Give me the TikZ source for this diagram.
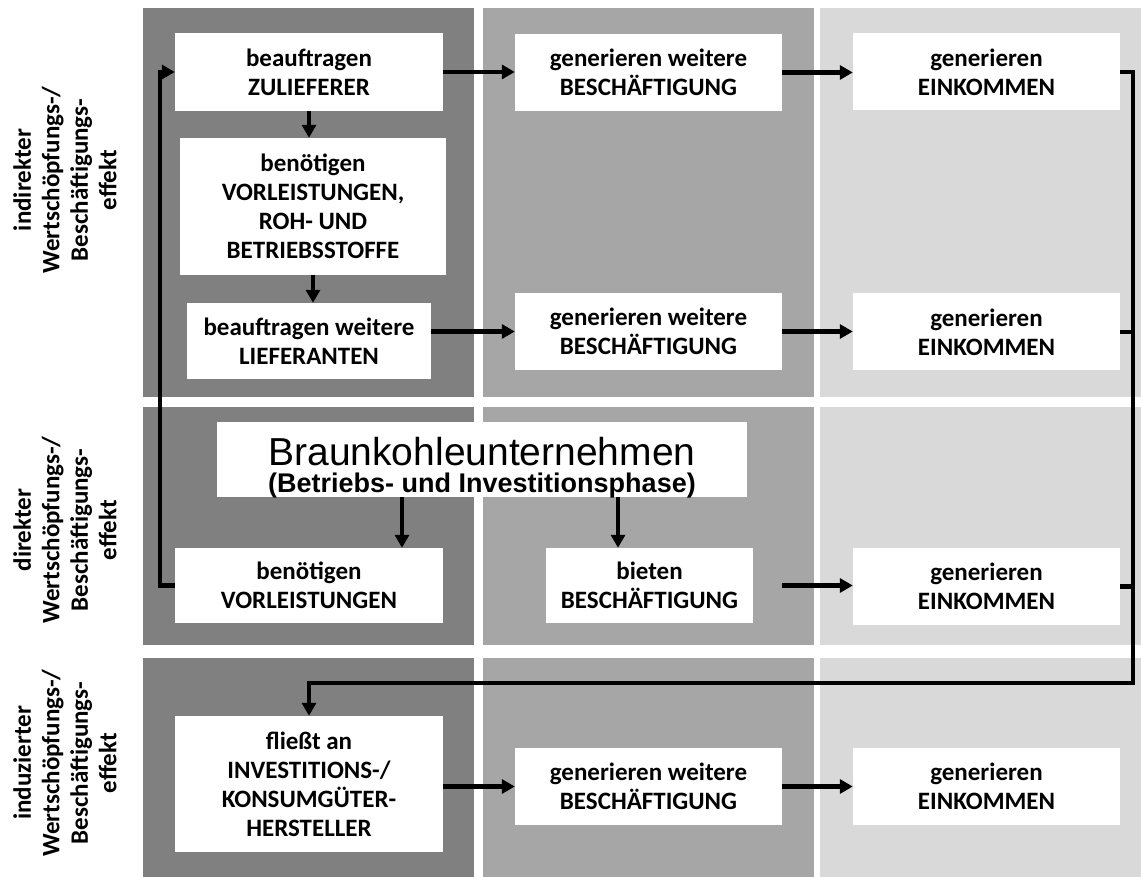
\documentclass[tikz,border=0pt]{standalone}
\usepackage{fontspec}
\setmainfont{Carlito}
\newfontfamily\arialfont{Liberation Sans}
\usepackage{tikz}
\usetikzlibrary{arrows.meta}

\definecolor{colA}{HTML}{808080}
\definecolor{colB}{HTML}{A6A6A6}
\definecolor{colC}{HTML}{D9D9D9}

\tikzset{
  box/.style={fill=white, inner sep=0pt, align=center, minimum width=267pt, minimum height=77pt,
    font=\fontsize{25}{29}\selectfont\bfseries},
  sidelabel/.style={rotate=90, align=center, font=\fontsize{25}{28.5}\selectfont\bfseries},
  arr/.style={line width=4.5pt, -{Triangle[length=13pt,width=14pt]}},
  conn/.style={line width=4.5pt}
}

\begin{document}
\begin{tikzpicture}[x=1pt,y=-1pt]
	  \useasboundingbox[fill=white] (0,0) rectangle (1141,877);
	  % Draw the grey columns of each row
	  \foreach \ya/\yb in {8/397,407/645,658/877} {
	    \fill[colA] (143,\ya) rectangle (474,\yb);
	    \fill[colB] (483,\ya) rectangle (814,\yb);
	    \fill[colC] (820,\ya) rectangle (1141,\yb);
	  }
	  % Row labels
	  \node[sidelabel] (lblind) at (65,180) {indirekter\\Wertschöpfungs-/\\Beschäftigungs-\\effekt};
	  \node[sidelabel] (lbldir) at (65,530) {direkter\\Wertschöpfungs-/\\Beschäftigungs-\\effekt};
	  \node[sidelabel] (lblinduz) at (65,763) {induzierter\\Wertschöpfungs-/\\Beschäftigungs-\\effekt};
	  % indirect row
	  \node[box, minimum width=268pt, minimum height=78pt] (zul) at (309,72) {beauftragen\\ZULIEFERER};
	  \node[box, minimum width=266pt, minimum height=137pt] (vorl) at (313,206.5) {benötigen\\VORLEISTUNGEN,\\ROH- UND\\BETRIEBSSTOFFE};
	  \node[box, minimum width=244pt, minimum height=76pt] (lief) at (309,341) {beauftragen weitere\\LIEFERANTEN};
	  \node[box] (beschA) at (648.5,72.5) {generieren weitere\\BESCHÄFTIGUNG};
	  \node[box] (beschB) at (648.5,331.5) {generieren weitere\\BESCHÄFTIGUNG};
	  \node[box] (einkA) at (986.5,72) {generieren\\EINKOMMEN};
	  \node[box] (einkB) at (986.5,332) {generieren\\EINKOMMEN};
	  % direct row
	  \node[fill=white, inner sep=0pt, minimum width=530pt, text height=43pt, text depth=32pt,
	    font=\arialfont\fontsize{27}{27}\selectfont] (braun) at (482,459.5)
	    {\begin{tabular}[t]{@{}c@{}}{\fontsize{39}{27}\selectfont Braunkohleunternehmen}\\
	    \bfseries (Betriebs- und Investitionsphase)\end{tabular}};
	  \node[box, minimum width=268pt, minimum height=75pt] (vorlB) at (309,585.5) {benötigen\\VORLEISTUNGEN};
	  \node[box, minimum width=207pt, minimum height=75pt] (bieten) at (649.5,585.5) {bieten\\BESCHÄFTIGUNG};
	  \node[box] (einkC) at (986.5,586.5) {generieren\\EINKOMMEN};
	  % induced row
	  \node[box, minimum width=268pt, minimum height=136pt] (fl) at (309,784) {fließt an\\INVESTITIONS-/\\KONSUMGÜTER-\\HERSTELLER};
	  \node[box] (beschC) at (648.5,786.5) {generieren weitere\\BESCHÄFTIGUNG};
	  \node[box] (einkD) at (986.5,786.5) {generieren\\EINKOMMEN};
	  % Arrows
	  \draw[arr] (zul.east) -- (zul.east -| beschA.west);
	  \draw[arr] (beschA.east) -- (beschA.east -| einkA.west);
	  \draw[arr] (zul.south) -- (zul.south |- vorl.north);
	  \draw[arr] (vorl.south) -- (vorl.south |- lief.north);
	  \draw[arr] (lief.east |- beschB.west) -- (beschB.west);
	  \draw[arr] (beschB.east) -- (beschB.east -| einkB.west);
	  \coordinate (bvl) at ([xshift=-80pt]braun.south);
	  \coordinate (bvr) at ([xshift=136pt]braun.south);
	  \draw[arr] (bvl) -- (bvl |- vorlB.north);
	  \draw[arr] (bvr) -- (bvr |- bieten.north);
	  \draw[arr] (bieten.east -| beschB.east) -- (bieten.east -| einkC.west);
	  \draw[arr] (fl.east |- beschC.west) -- (beschC.west);
	  \draw[arr] (beschC.east) -- (beschC.east -| einkD.west);
	  % feedback lines
	  \draw[arr] (vorlB.west) -- ++(-15,0) |- (zul.west);
	  \coordinate (rback) at (1133,683);
	  \draw[arr] (einkA.east) -| (rback) -| (fl.north);
	  \draw[conn] (einkB.east) -- (einkB.east -| rback);
	  \draw[conn] (einkC.east) -- (einkC.east -| rback);
\end{tikzpicture}
\end{document}
